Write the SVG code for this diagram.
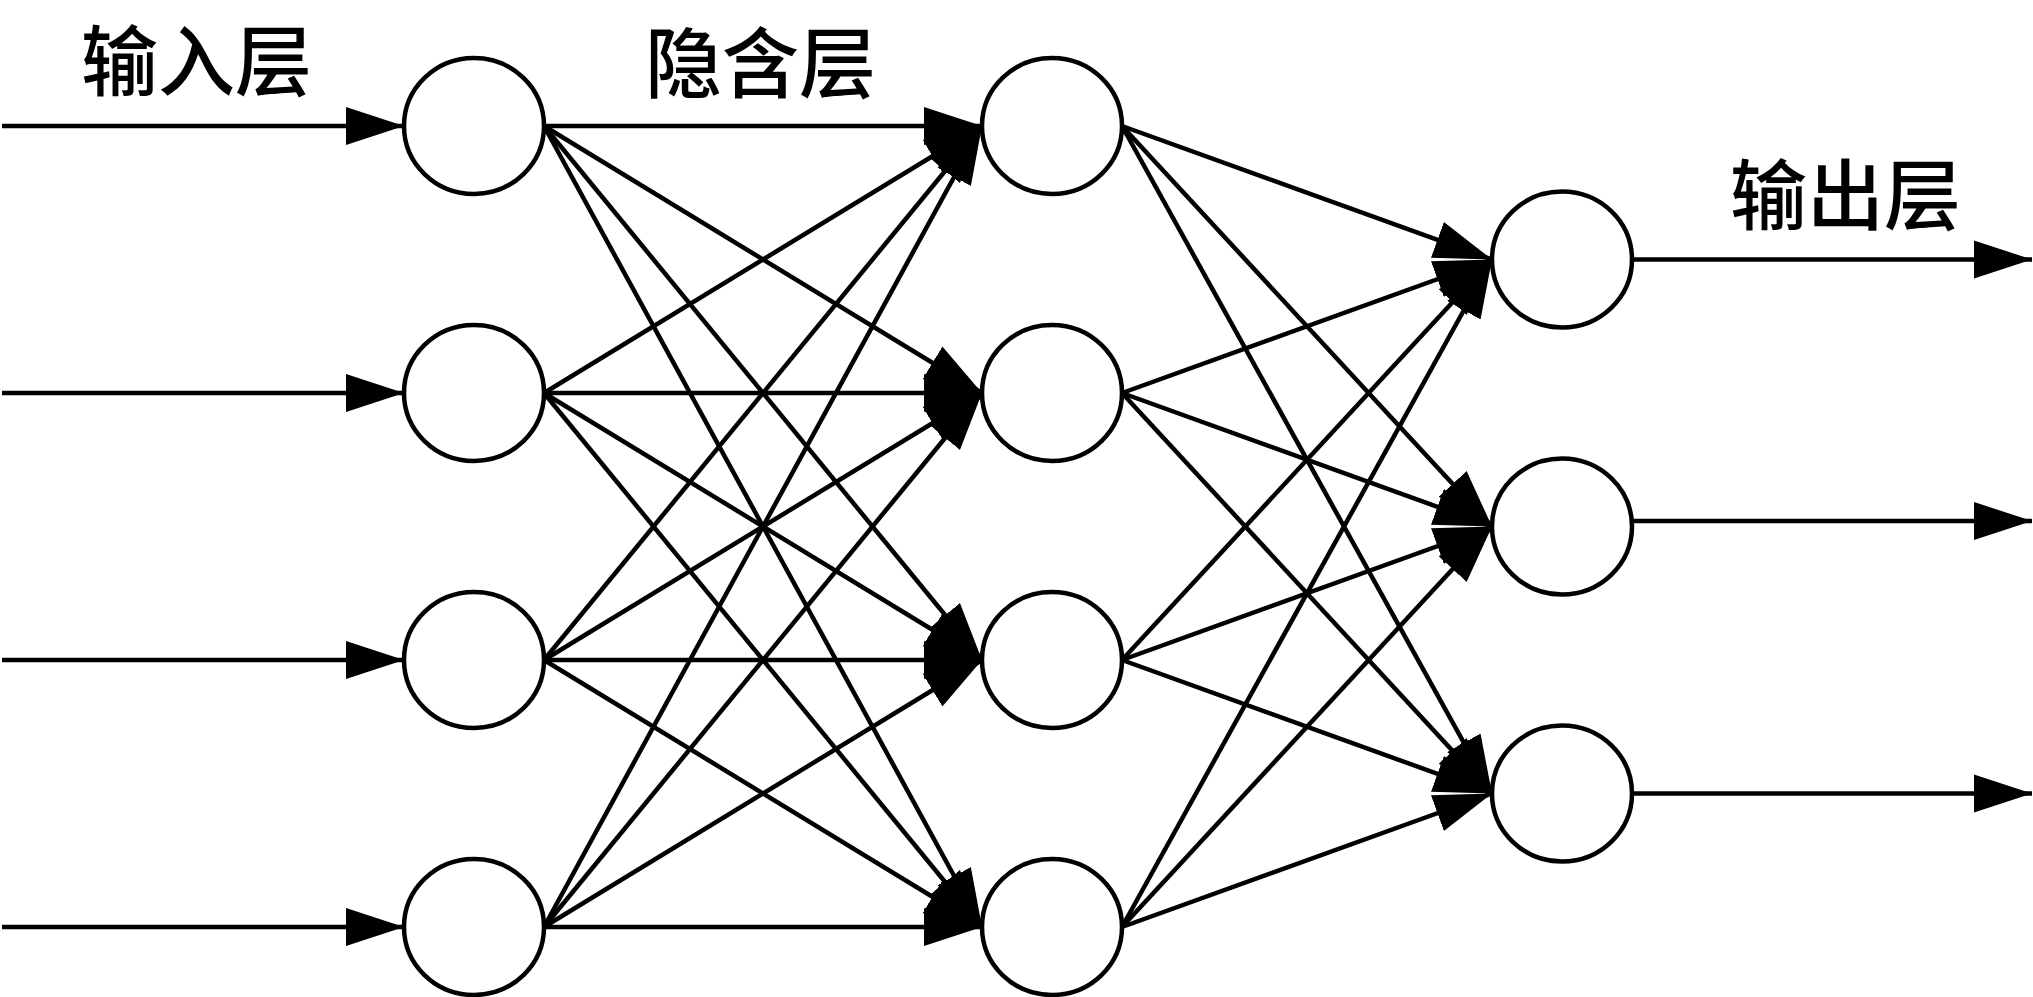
<svg xmlns="http://www.w3.org/2000/svg" width="2033" height="997" viewBox="0 0 2033 997">
<style>
.node{fill:#fff;stroke:#000;stroke-width:4.5}
.c line{stroke:#000;stroke-width:4.5;marker-end:url(#ah)}
.lbl{font-family:"Noto Sans CJK SC","Noto Sans CJK TC",sans-serif;font-size:77px;font-weight:500;fill:#000}
</style>
<defs>
<marker id="ah" markerUnits="userSpaceOnUse" viewBox="0 -20 60 40" refX="58" refY="0" markerWidth="60" markerHeight="40" orient="auto">
<path d="M0,-19 L58,0 L0,19 z" fill="#000"/>
</marker>
</defs>
<rect width="2033" height="997" fill="#fff"/>
<g id="connectors" class="c">
<line x1="2" y1="126" x2="404" y2="126"/>
<line x1="2" y1="393" x2="404" y2="393"/>
<line x1="2" y1="660" x2="404" y2="660"/>
<line x1="2" y1="927" x2="404" y2="927"/>
<line x1="544" y1="126" x2="982" y2="126"/>
<line x1="544" y1="126" x2="982" y2="393"/>
<line x1="544" y1="126" x2="982" y2="660"/>
<line x1="544" y1="126" x2="982" y2="927"/>
<line x1="544" y1="393" x2="982" y2="126"/>
<line x1="544" y1="393" x2="982" y2="393"/>
<line x1="544" y1="393" x2="982" y2="660"/>
<line x1="544" y1="393" x2="982" y2="927"/>
<line x1="544" y1="660" x2="982" y2="126"/>
<line x1="544" y1="660" x2="982" y2="393"/>
<line x1="544" y1="660" x2="982" y2="660"/>
<line x1="544" y1="660" x2="982" y2="927"/>
<line x1="544" y1="927" x2="982" y2="126"/>
<line x1="544" y1="927" x2="982" y2="393"/>
<line x1="544" y1="927" x2="982" y2="660"/>
<line x1="544" y1="927" x2="982" y2="927"/>
<line x1="1122" y1="126" x2="1492" y2="259.5"/>
<line x1="1122" y1="126" x2="1492" y2="526.5"/>
<line x1="1122" y1="126" x2="1492" y2="793.5"/>
<line x1="1122" y1="393" x2="1492" y2="259.5"/>
<line x1="1122" y1="393" x2="1492" y2="526.5"/>
<line x1="1122" y1="393" x2="1492" y2="793.5"/>
<line x1="1122" y1="660" x2="1492" y2="259.5"/>
<line x1="1122" y1="660" x2="1492" y2="526.5"/>
<line x1="1122" y1="660" x2="1492" y2="793.5"/>
<line x1="1122" y1="927" x2="1492" y2="259.5"/>
<line x1="1122" y1="927" x2="1492" y2="526.5"/>
<line x1="1122" y1="927" x2="1492" y2="793.5"/>
<line x1="1632" y1="259.5" x2="2032" y2="259.5"/>
<line x1="1632" y1="521" x2="2032" y2="521"/>
<line x1="1632" y1="793.5" x2="2032" y2="793.5"/>
</g>
<g id="in1"><ellipse class="node" cx="474" cy="126" rx="70" ry="68"/></g>
<g id="in2"><ellipse class="node" cx="474" cy="393" rx="70" ry="68"/></g>
<g id="in3"><ellipse class="node" cx="474" cy="660" rx="70" ry="68"/></g>
<g id="in4"><ellipse class="node" cx="474" cy="927" rx="70" ry="68"/></g>
<g id="h1"><ellipse class="node" cx="1052" cy="126" rx="70" ry="68"/></g>
<g id="h2"><ellipse class="node" cx="1052" cy="393" rx="70" ry="68"/></g>
<g id="h3"><ellipse class="node" cx="1052" cy="660" rx="70" ry="68"/></g>
<g id="h4"><ellipse class="node" cx="1052" cy="927" rx="70" ry="68"/></g>
<g id="o1"><ellipse class="node" cx="1562" cy="259.5" rx="70" ry="68"/></g>
<g id="o2"><ellipse class="node" cx="1562" cy="526.5" rx="70" ry="68"/></g>
<g id="o3"><ellipse class="node" cx="1562" cy="793.5" rx="70" ry="68"/></g>
<g id="labels">
<text class="lbl" x="81" y="90">输入层</text>
<text class="lbl" x="645" y="92">隐含层</text>
<text class="lbl" x="1730" y="224">输出层</text>
</g>
</svg>
